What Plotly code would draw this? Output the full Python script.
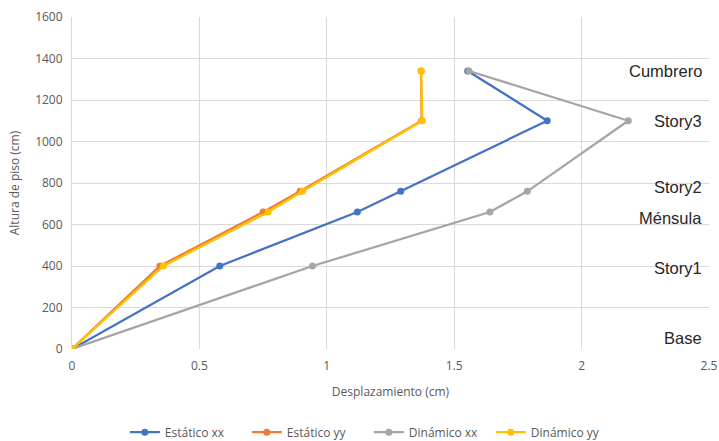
import plotly.graph_objects as go

# Story heights (cm) and lateral displacements (cm)
niveles = ["Base", "Story1", "Ménsula", "Story2", "Story3", "Cumbrero"]
alturas = [0, 400, 660, 760, 1100, 1340]

estatico_xx = [0, 0.58, 1.12, 1.29, 1.865, 1.553]
estatico_yy = [0, 0.345, 0.75, 0.895, 1.372, 1.37]
dinamico_xx = [0, 0.944, 1.64, 1.787, 2.183, 1.558]
dinamico_yy = [0, 0.359, 0.77, 0.905, 1.375, 1.37]

# vertical nudges (px) for the level labels so neighbouring names don't collide
label_shift = [11, -2, -6, 4, 0, 0]

series = [
    ("Estático xx", estatico_xx, "#4472C4"),
    ("Estático yy", estatico_yy, "#ED7D31"),
    ("Dinámico xx", dinamico_xx, "#A5A5A5"),
    ("Dinámico yy", dinamico_yy, "#FFC000"),
]

fig = go.Figure()
for name, xs, color in series:
    fig.add_trace(go.Scatter(
        x=xs, y=alturas, name=name, mode="lines+markers",
        line=dict(color=color, width=2.25),
        marker=dict(color=color, size=7),
    ))

for lvl, h, dy in zip(niveles, alturas, label_shift):
    fig.add_annotation(
        x=2.5, y=h, xref="x", yref="y", text=lvl, showarrow=False,
        xanchor="right", yanchor="middle", xshift=-5, yshift=dy,
        font=dict(family="Liberation Sans, Arial", size=16.5, color="#262626"),
    )

fig.update_layout(
    width=719, height=441,
    margin=dict(l=72, r=10, t=17, b=92, autoexpand=False),
    paper_bgcolor="white", plot_bgcolor="white",
    font=dict(family="Open Sans, Noto Sans", size=12, color="#595959"),
    legend=dict(orientation="h", x=0.466, xanchor="center", yref="container",
                y=0.02, yanchor="middle", entrywidth=77, entrywidthmode="pixels",
                font=dict(size=12, color="#595959"), itemwidth=30),
    showlegend=True,
)
fig.update_xaxes(
    range=[0, 2.5], dtick=0.5, showgrid=True, gridcolor="#D9D9D9", gridwidth=1,
    zeroline=False, showline=False, ticks="", automargin=False, ticklabelstandoff=8,
    tickfont=dict(size=12, color="#595959"),
    title=dict(text="Desplazamiento (cm)", font=dict(size=12, color="#595959"), standoff=14),
)
fig.update_yaxes(
    range=[0, 1600], dtick=200, showgrid=True, gridcolor="#D9D9D9", gridwidth=1,
    zeroline=False, showline=True, linecolor="#D9D9D9", mirror=False, ticks="",
    automargin=False, ticklabelstandoff=6, tickfont=dict(size=12, color="#595959"),
    title=dict(text="Altura de piso (cm)", font=dict(size=12, color="#595959"), standoff=12),
)

fig.write_html("out.html")
